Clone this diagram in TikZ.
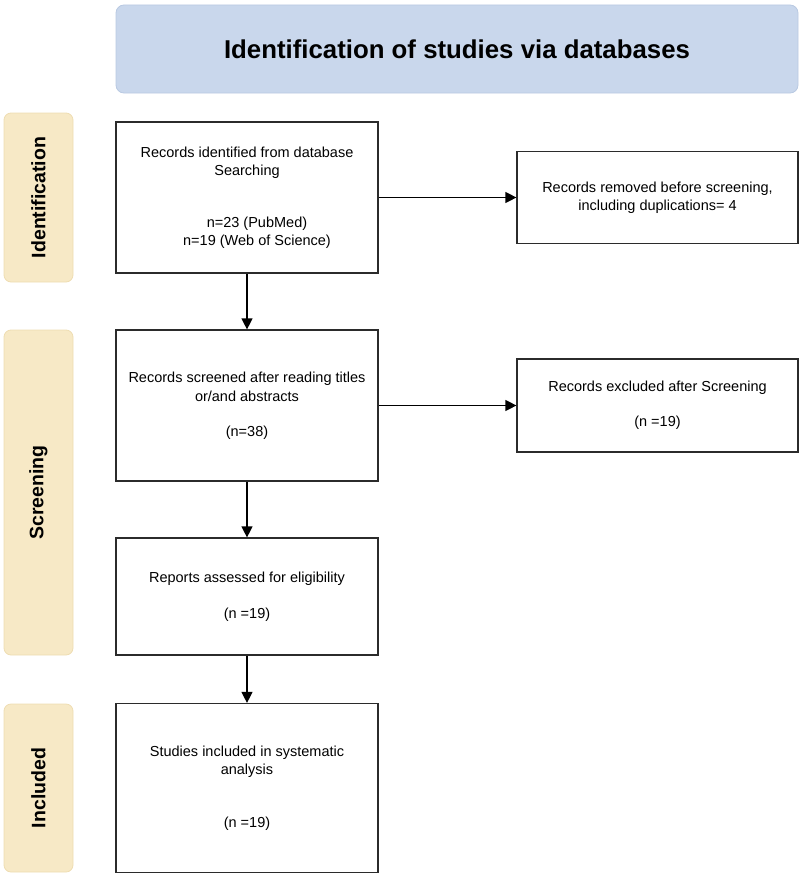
\documentclass[tikz,border=0pt]{standalone}
\usepackage{fontspec}
\setmainfont{Liberation Sans}
\usetikzlibrary{arrows.meta}
\definecolor{titlefill}{HTML}{C9D7EC}
\definecolor{titleline}{HTML}{B9C9E2}
\definecolor{sidefill}{HTML}{F7E9C6}
\definecolor{sideline}{HTML}{EEDDB2}
\definecolor{boxline}{HTML}{2B2B2B}
\tikzset{
  x=1pt,y=-1pt,
  titlebox/.style={draw=titleline,fill=titlefill,rounded corners=8pt,line width=0.8pt,
    minimum width=682pt,minimum height=88pt,inner sep=0pt,
    font=\fontsize{25.8}{30}\selectfont\bfseries},
  sidebox/.style={draw=sideline,fill=sidefill,rounded corners=7pt,line width=0.8pt,
    minimum width=69pt,inner sep=0pt},
  sidelabel/.style={rotate=90,font=\fontsize{19.5}{22}\selectfont\bfseries},
  flowbox/.style={draw=boxline,line width=1.2pt,minimum width=262pt,inner sep=0pt,
    align=center,font=\fontsize{14.5}{18.5}\selectfont},
  sidebox2/.style={flowbox,minimum width=281pt},
  flowarrow/.style={draw=black,line width=1.2pt,-{Triangle[length=11pt,width=11pt]}},
}
\begin{document}
\begin{tikzpicture}
\useasboundingbox (0,0) rectangle (800,875);
\node[titlebox] (title) at (457,49) {Identification of studies via databases};

\node[sidebox,minimum height=169pt] (sid) at (38.5,197.5) {};
\node[sidelabel] (sidl) at (sid.center) {Identification};
\node[sidebox,minimum height=325pt] (ssc) at (38.5,492.5) {};
\node[sidelabel] (sscl) at (ssc.center) {Screening};
\node[sidebox,minimum height=168pt] (sin) at (38.5,788) {};
\node[sidelabel] (sinl) at (sin.center) {Included};

\node[flowbox,minimum height=151pt] (b1) at (247,197.5)
  {Records identified from database\\Searching\\[33pt]
   \hspace*{20pt}n=23 (PubMed)\\\hspace*{20pt}n=19 (Web of Science)};
\node[flowbox,minimum height=151pt] (b2) at (247,405.5)
  {Records screened after reading titles\\or/and abstracts\\[16.5pt](n=38)};
\node[flowbox,minimum height=117pt] (b3) at (247,596.5)
  {Reports assessed for eligibility\\[17pt](n =19)};
\node[flowbox,minimum height=169pt] (b4) at (247,788)
  {Studies included in systematic\\analysis\\[34pt](n =19)};

\node[sidebox2,minimum height=92pt] (rem) at (657.5,197.5)
  {Records removed before screening,\\including duplications= 4};
\node[sidebox2,minimum height=93pt] (exc) at (657.5,405.5)
  {Records excluded after Screening\\[16.5pt](n =19)};

\draw[flowarrow] (b1) -- (b2);
\draw[flowarrow] (b2) -- (b3);
\draw[flowarrow] (b3) -- (b4);
\draw[flowarrow] (b1.east) -- (rem.west);
\draw[flowarrow] (b2.east) -- (exc.west);
\end{tikzpicture}
\end{document}
